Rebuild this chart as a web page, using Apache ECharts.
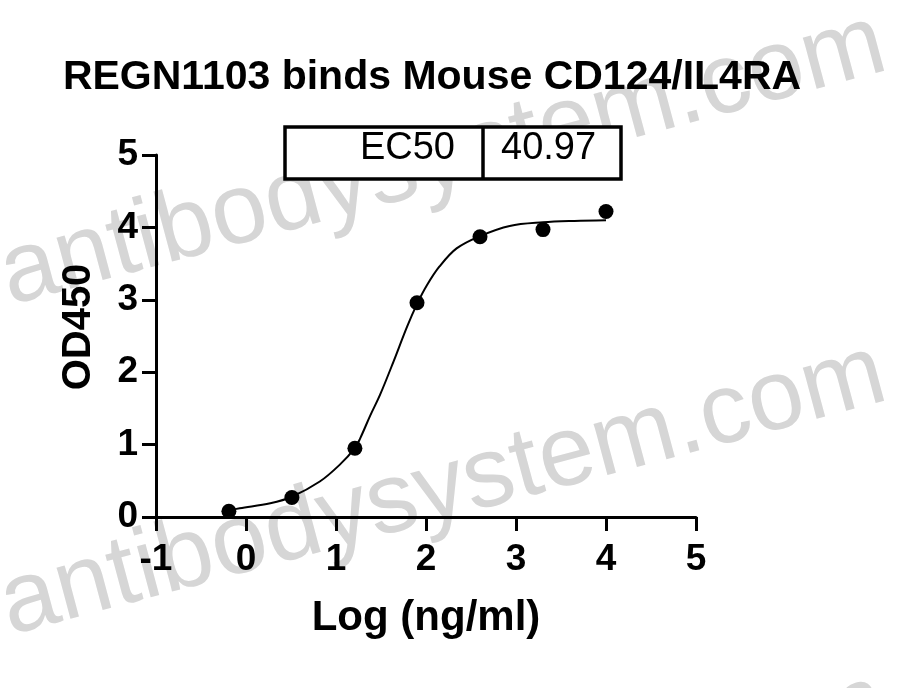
<!DOCTYPE html>
<html>
<head>
<meta charset="utf-8">
<script src="https://cdn.jsdelivr.net/npm/echarts@6/dist/echarts.min.js"></script>
<style>
  html, body { margin: 0; padding: 0; background: #ffffff; }
  #chart { width: 901px; height: 688px; }
</style>
</head>
<body>
<div id="chart"></div>
<script>
// measured points (log concentration vs OD450)
const logConc = [-0.19, 0.51, 1.21, 1.90, 2.60, 3.30, 4.00];
const od450 = [0.08, 0.27, 0.95, 2.96, 3.87, 3.97, 4.22];

// fitted curve
const fitX = [-0.19, -0.07, 0.27, 0.51, 0.82, 1.04, 1.21, 1.27, 1.38, 1.49, 1.64, 1.79, 1.90, 2.01, 2.15, 2.34, 2.60, 2.93, 3.30, 3.65, 4.00];
const fitY = [0.09, 0.12, 0.19, 0.28, 0.49, 0.72, 0.95, 1.09, 1.40, 1.69, 2.15, 2.63, 2.94, 3.20, 3.46, 3.71, 3.88, 4.02, 4.07, 4.09, 4.10];

const ec50Label = "EC50";
const ec50Value = "40.97";
const titleText = "REGN1103 binds Mouse CD124/IL4RA";
const watermark = "antibodysystem.com";

const FONT = "'Liberation Sans', Arial, sans-serif";

const points = logConc.map((x, i) => [x, od450[i]]);
const curve = fitX.map((x, i) => [x, fitY[i]]);

const chart = echarts.init(document.getElementById("chart"));

// grey diagonal watermark lines behind the plot
const wmRot = 15 * Math.PI / 180;
const wmLines = [230, 560, 890].map(y => ({
    type: "text",
    x: -10,
    y: y,
    rotation: wmRot,
    z: -10,
    silent: true,
    style: {
        text: watermark,
        fill: "#d6d6d6",
        font: "100px " + FONT,
        textAlign: "left",
        textVerticalAlign: "top"
    }
}));

const option = {
    backgroundColor: "#ffffff",
    animation: false,
    title: {
        text: titleText,
        left: 427,
        top: 52,
        textAlign: "center",
        textStyle: {
            fontFamily: FONT,
            fontWeight: "bold",
            fontSize: 41,
            color: "#000"
        }
    },
    grid: {
        left: 156,
        right: 205,
        top: 155,
        bottom: 171,
        containLabel: false
    },
    xAxis: {
        type: "value",
        min: -1,
        max: 5,
        interval: 1,
        name: "Log (ng/ml)",
        nameLocation: "middle",
        nameGap: 80,
        nameTextStyle: {
            fontFamily: FONT,
            fontWeight: "bold",
            fontSize: 42,
            color: "#000"
        },
        splitLine: { show: false },
        axisLine: { show: true, onZero: false, lineStyle: { color: "#000", width: 3 } },
        axisTick: { show: true, length: 14, lineStyle: { color: "#000", width: 3 } },
        axisLabel: {
            margin: 24,
            fontFamily: FONT,
            fontWeight: "bold",
            fontSize: 37,
            color: "#000"
        }
    },
    yAxis: {
        type: "value",
        min: 0,
        max: 5,
        interval: 1,
        name: "OD450",
        nameLocation: "middle",
        nameGap: 57,
        nameTextStyle: {
            fontFamily: FONT,
            fontWeight: "bold",
            fontSize: 40,
            color: "#000",
            padding: [0, 0, 0, 18]
        },
        splitLine: { show: false },
        axisLine: { show: true, onZero: false, lineStyle: { color: "#000", width: 3 } },
        axisTick: { show: true, length: 14, lineStyle: { color: "#000", width: 3 } },
        axisLabel: {
            margin: 18,
            fontFamily: FONT,
            fontWeight: "bold",
            fontSize: 37,
            color: "#000"
        }
    },
    graphic: wmLines.concat([
        {
            type: "rect",
            shape: { x: 285, y: 127, width: 336, height: 52 },
            style: { fill: "#fff", stroke: "#000", lineWidth: 3.5 },
            z: 5
        },
        {
            type: "line",
            shape: { x1: 483, y1: 127, x2: 483, y2: 179 },
            style: { stroke: "#000", lineWidth: 3.5 },
            z: 6
        },
        {
            type: "text",
            x: 455,
            y: 149,
            z: 6,
            style: {
                text: ec50Label,
                font: "38px " + FONT,
                fill: "#000",
                textAlign: "right",
                textVerticalAlign: "middle"
            }
        },
        {
            type: "text",
            x: 501,
            y: 149,
            z: 6,
            style: {
                text: ec50Value,
                font: "38px " + FONT,
                fill: "#000",
                textAlign: "left",
                textVerticalAlign: "middle"
            }
        }
    ]),
    series: [
        {
            name: "fit",
            type: "line",
            data: curve,
            smooth: 0.35,
            showSymbol: false,
            symbol: "none",
            lineStyle: { color: "#000", width: 2 },
            z: 3
        },
        {
            name: "data",
            type: "scatter",
            data: points,
            symbol: "circle",
            symbolSize: 15,
            itemStyle: { color: "#000", opacity: 1 },
            z: 4
        }
    ]
};

chart.setOption(option);
</script>
</body>
</html>
